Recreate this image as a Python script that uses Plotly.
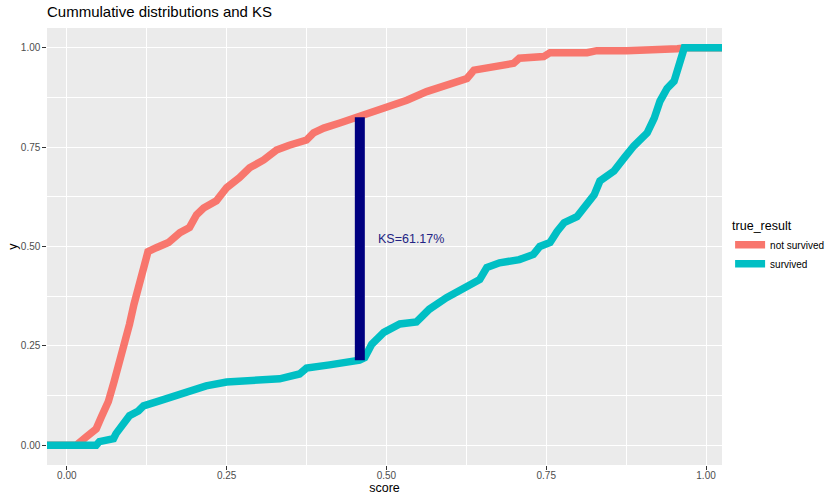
import plotly.graph_objects as go

# Empirical CDF of the model score for each outcome group
not_survived_score = [0.015, 0.030, 0.046, 0.054, 0.065, 0.074, 0.082, 0.090, 0.098, 0.105,
                      0.113, 0.120, 0.127, 0.140, 0.159, 0.177, 0.192, 0.203, 0.214, 0.234,
                      0.250, 0.270, 0.286, 0.308, 0.328, 0.348, 0.375, 0.386, 0.402, 0.427,
                      0.449, 0.469, 0.490, 0.532, 0.563, 0.594, 0.626, 0.637, 0.668, 0.699,
                      0.708, 0.746, 0.756, 0.814, 0.829, 0.876, 0.955, 0.970]
not_survived_cdf = [0.0, 0.020, 0.041, 0.071, 0.110, 0.160, 0.204, 0.254, 0.304, 0.354,
                    0.404, 0.447, 0.487, 0.497, 0.510, 0.535, 0.548, 0.580, 0.597, 0.615,
                    0.648, 0.673, 0.698, 0.718, 0.743, 0.755, 0.768, 0.786, 0.798, 0.811,
                    0.823, 0.831, 0.841, 0.868, 0.890, 0.906, 0.923, 0.944, 0.954, 0.961,
                    0.974, 0.978, 0.988, 0.988, 0.993, 0.993, 0.998, 1.0]

survived_score = [0.046, 0.051, 0.073, 0.077, 0.088, 0.098, 0.112, 0.120, 0.140, 0.156,
                  0.176, 0.198, 0.218, 0.250, 0.281, 0.333, 0.364, 0.375, 0.411, 0.438,
                  0.458, 0.466, 0.477, 0.496, 0.521, 0.547, 0.567, 0.594, 0.626, 0.646,
                  0.657, 0.677, 0.708, 0.730, 0.740, 0.756, 0.767, 0.778, 0.798, 0.809,
                  0.825, 0.834, 0.856, 0.872, 0.887, 0.908, 0.919, 0.928, 0.939, 0.950,
                  0.955, 0.960, 0.966]
survived_cdf = [0.0, 0.009, 0.016, 0.029, 0.049, 0.074, 0.086, 0.099, 0.109, 0.117,
                0.129, 0.137, 0.149, 0.159, 0.162, 0.167, 0.179, 0.194, 0.202, 0.207,
                0.214, 0.220, 0.254, 0.284, 0.305, 0.310, 0.342, 0.371, 0.400, 0.417,
                0.447, 0.459, 0.467, 0.480, 0.500, 0.510, 0.538, 0.560, 0.575, 0.600,
                0.630, 0.665, 0.690, 0.723, 0.753, 0.786, 0.823, 0.866, 0.898, 0.916,
                0.948, 0.980, 1.0]

# KS statistic: largest vertical gap between the two CDFs
ks_score = 0.4584
ks_low = 0.2138
ks_high = 0.8255
ks_value = ks_high - ks_low

x_ticks = [0.0, 0.25, 0.5, 0.75, 1.0]
y_ticks = [0.0, 0.25, 0.5, 0.75, 1.0]
minor_ticks = [0.125, 0.375, 0.625, 0.875]
x_range = [-0.031, 1.025]
y_range = [-0.05, 1.05]

RED = "#F8766D"
CYAN = "#00BFC4"
FONT = "Liberation Sans, Arial, sans-serif"


def padded(xs, ys):
    # ECDF lines run flat out to both panel edges
    return [x_range[0]] + xs + [x_range[1]], [ys[0]] + ys + [ys[-1]]


fig = go.Figure()
for name, xs, ys, col in [("not survived", not_survived_score, not_survived_cdf, RED),
                          ("survived", survived_score, survived_cdf, CYAN)]:
    px, py = padded(xs, ys)
    fig.add_trace(go.Scatter(x=px, y=py, mode="lines", name=name,
                             line=dict(color=col, width=7.5)))

fig.add_shape(type="line", xref="x", yref="y",
              x0=ks_score, x1=ks_score, y0=ks_low, y1=ks_high,
              line=dict(color="#000080", width=10))

fig.add_annotation(x=ks_score + 0.08, y=(ks_low + ks_high) / 2, xref="x", yref="y",
                   text=f"KS={ks_value * 100:.2f}%", showarrow=False,
                   font=dict(family=FONT, size=12.5, color="#232383"))

axis_common = dict(
    showgrid=True, gridcolor="white", gridwidth=1.1,
    zeroline=False, showline=False, automargin=True,
    ticks="outside", ticklen=3.7, tickwidth=1.1, tickcolor="#333333",
    tickfont=dict(family=FONT, size=10, color="#4D4D4D"),
    minor=dict(showgrid=True, gridcolor="white", gridwidth=0.55,
               tickmode="array", tickvals=minor_ticks),
)

fig.update_xaxes(**axis_common, range=x_range, tickmode="array", tickvals=x_ticks,
                 ticktext=[f"{v:.2f}" for v in x_ticks], ticklabelstandoff=-3,
                 title=dict(text="score", font=dict(family=FONT, size=12.5, color="black"),
                            standoff=2))
fig.update_yaxes(**axis_common, range=y_range, tickmode="array", tickvals=y_ticks,
                 ticktext=[f"{v:.2f}" for v in y_ticks],
                 title=dict(text="y", font=dict(family=FONT, size=12.5, color="black"),
                            standoff=0))

fig.update_layout(
    width=825, height=496,
    margin=dict(l=47, r=103, t=28, b=31, autoexpand=False),
    paper_bgcolor="white", plot_bgcolor="#EBEBEB",
    font=dict(family=FONT, color="black"),
    title=dict(text="Cummulative distributions and KS", x=0, xref="paper",
               y=1, yref="container", yanchor="top", pad=dict(t=6),
               font=dict(family=FONT, size=15, color="black")),
    showlegend=True,
    legend=dict(title=dict(text="true_result", font=dict(family=FONT, size=12.5)),
                font=dict(family=FONT, size=10, color="black"),
                x=1.012, xanchor="left", y=0.5, yanchor="middle",
                bgcolor="rgba(0,0,0,0)", itemwidth=30, tracegroupgap=0),
)

fig.write_html("out.html")
